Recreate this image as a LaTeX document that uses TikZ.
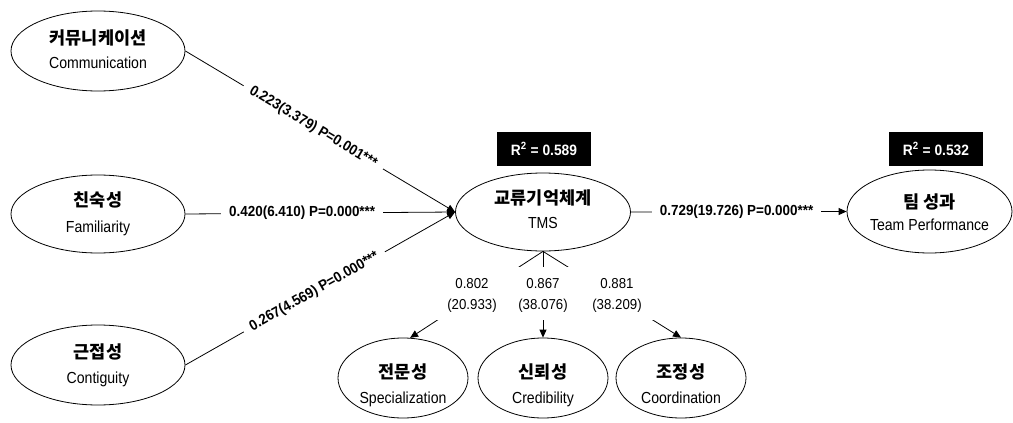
\documentclass[tikz,border=0pt]{standalone}
\usepackage{fontspec}
\setmainfont{Liberation Sans}
\newfontfamily\krfont{Noto Sans CJK KR}
\newfontfamily\enfont{Liberation Sans}[FakeStretch=0.88]
\newfontfamily\coeffont{Liberation Sans}[FakeStretch=0.92]
\usetikzlibrary{shapes.geometric,arrows.meta}
\begin{document}
\begin{tikzpicture}[x=1pt,y=-1pt,
  lat/.style={ellipse, draw, line width=0.8pt, minimum width=174pt, minimum height=80pt, inner sep=0pt},
  subl/.style={ellipse, draw, line width=0.8pt, minimum width=130pt, minimum height=80pt, inner sep=0pt},
  krt/.style={font=\krfont\bfseries\fontsize{17.5}{20}\selectfont, inner sep=0pt, anchor=base},
  ent/.style={font=\enfont\fontsize{16}{18}\selectfont, inner sep=0pt, anchor=base},
  coef/.style={font=\coeffont\bfseries\fontsize{14.6}{16}\selectfont, fill=white, inner xsep=8pt, inner ysep=2pt},
  loadt/.style={font=\coeffont\fontsize{14.4}{21}\selectfont, align=center, inner sep=0pt},
  rbox/.style={fill=black, text=white, font=\coeffont\bfseries\fontsize{15}{16}\selectfont, minimum width=94pt, minimum height=34pt, inner sep=0pt},
  arr/.style={line width=0.8pt, -{Triangle[length=8pt,width=7pt]}}]
\useasboundingbox[fill=white] (0,0) rectangle (1013,423);

% latent variables
\node[lat] (comm) at (98,51) {};
\node[lat, minimum height=78pt] (fam) at (98,214) {};
\node[lat] (cont) at (98,365) {};
\node[lat, minimum width=175pt, minimum height=78pt] (tms) at (543,212) {};
\node[lat, minimum width=165pt, minimum height=83pt] (tp) at (929.5,211.5) {};
\node[subl] (spec) at (403,378) {};
\node[subl] (cred) at (543,378) {};
\node[subl] (coord) at (681,378) {};

% texts
\node[krt] (commK) at (98,44) {커뮤니케이션};
\node[ent] (commE) at (98,68) {Communication};
\node[krt] (famK) at (98,206) {친숙성};
\node[ent] (famE) at (98,232) {Familiarity};
\node[krt] (contK) at (98,358) {근접성};
\node[ent] (contE) at (98,383) {Contiguity};
\node[krt] (tmsK) at (543,204) {교류기억체계};
\node[ent] (tmsE) at (543,228) {TMS};
\node[krt] (tpK) at (929.5,208) {팀 성과};
\node[ent] (tpE) at (929.5,230) {Team Performance};
\node[krt] (specK) at (403,378) {전문성};
\node[ent] (specE) at (403,403) {Specialization};
\node[krt] (credK) at (543,378) {신뢰성};
\node[ent] (credE) at (543,403) {Credibility};
\node[krt] (coordK) at (681,378) {조정성};
\node[ent] (coordE) at (681,403) {Coordination};

% R2 boxes
\node[rbox] (r1) at (544,149) {R\textsuperscript{2} = 0.589};
\node[rbox] (r2) at (936,149) {R\textsuperscript{2} = 0.532};

% structural paths
\draw[arr] (comm.east) -- node[coef, sloped, pos=0.474] (c1) {0.223(3.379) P=0.001***} (tms.west);
\draw[arr] (fam.east) -- node[coef, pos=0.433] (c2) {0.420(6.410) P=0.000***} (tms.west);
\draw[arr] (cont.east) -- node[coef, sloped, pos=0.478] (c3) {0.267(4.569) P=0.000***} (tms.west);
\draw[arr] (tms.east) -- node[coef, pos=0.49] (c4) {0.729(19.726) P=0.000***} (tp.west);

% measurement paths
\draw[arr] (tms.south) -- (spec.80);
\draw[arr] (tms.south) -- (cred.north);
\draw[arr] (tms.south) -- (coord.north);
\node[fill=white, minimum width=230pt, minimum height=53pt, inner sep=0pt] (band) at (545,293.5) {};
\node[loadt] (l1) at (472,295) {0.802\\(20.933)};
\node[loadt] (l2) at (543,295) {0.867\\(38.076)};
\node[loadt] (l3) at (617,295) {0.881\\(38.209)};
\end{tikzpicture}
\end{document}
